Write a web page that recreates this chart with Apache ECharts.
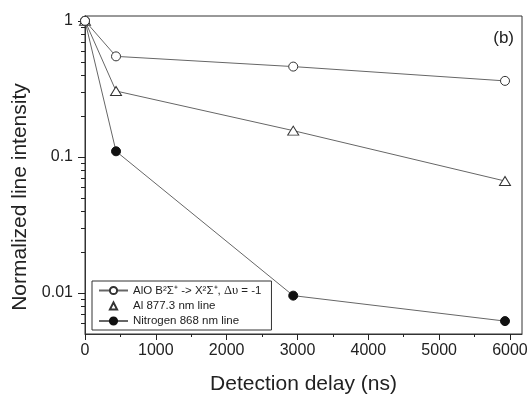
<!DOCTYPE html>
<html>
<head>
<meta charset="utf-8">
<script src="https://cdn.jsdelivr.net/npm/echarts@6/dist/echarts.min.js"></script>
<style>
  html, body { margin: 0; padding: 0; background: #fff; }
  #chart { width: 531px; height: 400px; }
</style>
</head>
<body>
<div id="chart"></div>
<script>
// Detection delays (ns) and normalized intensities per emission line
const delays = [0, 438, 2940, 5930];
const aloBand = [1, 0.548, 0.461, 0.362];
const alLine = [1, 0.305, 0.156, 0.0665];
const nitrogenLine = [1, 0.110, 0.00957, 0.00622];

const seriesNames = [
  'AlO B²Σ⁺ -> X²Σ⁺, {serif|Δυ} = -1',
  'Al 877.3 nm line',
  'Nitrogen 868 nm line'
];

// Axis ranges and tick positions
const X_MIN = 0, X_MAX = 6170;
const Y_MIN = 0.005, Y_MAX = 1.085;
const xMajorTicks = [0, 1000, 2000, 3000, 4000, 5000, 6000];
const xMinorTicks = [500, 1500, 2500, 3500, 4500, 5500];
const xTickLabels = ['0', '1000', '2000', '3000', '4000', '5000', '6000'];
const yMajorTicks = [0.01, 0.1, 1];
const yMinorTicks = [0.006, 0.007, 0.008, 0.009,
                     0.02, 0.03, 0.04, 0.05, 0.06, 0.07, 0.08, 0.09,
                     0.2, 0.3, 0.4, 0.5, 0.6, 0.7, 0.8, 0.9];
const yTickLabels = ['0.01', '0.1', '1'];

const FONT = 'Liberation Sans, Arial, sans-serif';
const INK = '#222';

const chart = echarts.init(document.getElementById('chart'));

function pairs(ys) { return delays.map((x, i) => [x, ys[i]]); }

function labelFor(value, ticks, labels) {
  const v = Number(value);
  for (let i = 0; i < ticks.length; i++) {
    if (Math.abs(v - ticks[i]) <= Math.abs(ticks[i]) * 1e-6 + 1e-9) return labels[i];
  }
  return '';
}

const lineStyle = { color: '#666', width: 1 };

// A second axis on each side carries only the minor tick marks
function minorAxis(type, min, max, values, len, pos) {
  return {
    type: type,
    position: pos,
    min: min, max: max,
    axisLine: { show: false },
    axisLabel: { show: false },
    splitLine: { show: false },
    minorTick: { show: false },
    axisTick: { show: true, inside: false, length: len, customValues: values, lineStyle: { color: INK, width: 1 } }
  };
}

chart.setOption({
  animation: false,
  title: {
    text: '(b)',
    right: 12,
    top: 25,
    textStyle: { fontFamily: FONT, fontSize: 17, fontWeight: 'normal', color: INK }
  },
  grid: {
    left: 85, right: 9, top: 16, bottom: 59,
    show: true, borderColor: '#333', borderWidth: 1
  },
  legend: {
    orient: 'vertical',
    left: 92,
    top: 281,
    itemWidth: 29,
    itemHeight: 9,
    itemGap: 3,
    padding: [3, 10, 3, 6],
    borderColor: '#333',
    borderWidth: 1,
    selectedMode: false,
    textStyle: {
      fontFamily: FONT, fontSize: 11.5, color: INK,
      rich: { serif: { fontFamily: 'Liberation Serif, Times New Roman, serif', fontSize: 12.5, color: INK } }
    },
    data: [
      { name: seriesNames[0] },
      { name: seriesNames[1], lineStyle: { opacity: 0 } },
      { name: seriesNames[2] }
    ]
  },
  xAxis: [
    {
      type: 'value',
      min: X_MIN, max: X_MAX, interval: 1000,
      name: 'Detection delay (ns)',
      nameLocation: 'middle',
      nameGap: 40,
      nameTextStyle: { fontFamily: FONT, fontSize: 21, color: INK },
      axisLine: { show: true, lineStyle: { color: '#333', width: 1 } },
      axisTick: { show: true, inside: false, length: 6, customValues: xMajorTicks, lineStyle: { color: INK, width: 1 } },
      splitLine: { show: false },
      axisLabel: {
        margin: 9, fontFamily: FONT, fontSize: 16, color: INK,
        customValues: xMajorTicks,
        formatter: v => labelFor(v, xMajorTicks, xTickLabels)
      }
    },
    minorAxis('value', X_MIN, X_MAX, xMinorTicks, 3, 'bottom')
  ],
  yAxis: [
    {
      type: 'log',
      logBase: 10,
      min: Y_MIN, max: Y_MAX,
      name: 'Normalized line intensity',
      nameLocation: 'middle',
      nameGap: 52,
      nameTextStyle: { fontFamily: FONT, fontSize: 21, color: INK, padding: [0, 44, 0, 0] },
      axisLine: { show: true, lineStyle: { color: '#333', width: 1 } },
      axisTick: { show: true, inside: false, length: 7, customValues: yMajorTicks, lineStyle: { color: INK, width: 1 } },
      minorTick: { show: false },
      splitLine: { show: false },
      axisLabel: {
        margin: 12, fontFamily: FONT, fontSize: 16, color: INK,
        customValues: yMajorTicks,
        formatter: v => labelFor(v, yMajorTicks, yTickLabels)
      }
    },
    minorAxis('log', Y_MIN, Y_MAX, yMinorTicks, 4, 'left')
  ],
  series: [
    {
      name: seriesNames[2],
      type: 'line',
      data: pairs(nitrogenLine),
      symbol: 'circle',
      symbolSize: 9,
      z: 3,
      lineStyle: lineStyle,
      itemStyle: { color: '#111', borderColor: '#111', borderWidth: 1 }
    },
    {
      name: seriesNames[1],
      type: 'line',
      data: pairs(alLine),
      symbol: 'triangle',
      symbolSize: [11, 9],
      z: 4,
      lineStyle: lineStyle,
      itemStyle: { color: '#fff', borderColor: '#333', borderWidth: 1 }
    },
    {
      name: seriesNames[0],
      type: 'line',
      data: pairs(aloBand),
      symbol: 'circle',
      symbolSize: 9,
      z: 5,
      lineStyle: lineStyle,
      itemStyle: { color: '#fff', borderColor: '#333', borderWidth: 1 }
    }
  ]
});
</script>
</body>
</html>
